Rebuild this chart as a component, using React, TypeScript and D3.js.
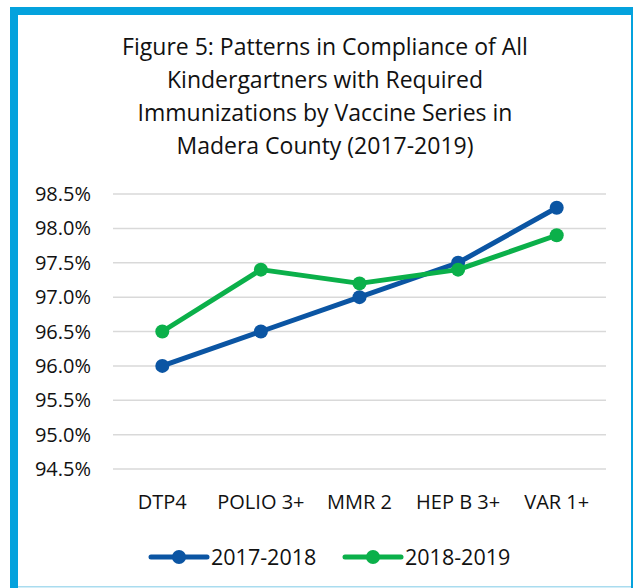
import React from 'react'
import * as d3 from 'd3'

const categories = ['DTP4', 'POLIO 3+', 'MMR 2', 'HEP B 3+', 'VAR 1+']
const series2017 = [96.0, 96.5, 97.0, 97.5, 98.3]
const series2018 = [96.5, 97.4, 97.2, 97.4, 97.9]
const seriesNames = ['2017-2018', '2018-2019']
const yTicks = [94.5, 95.0, 95.5, 96.0, 96.5, 97.0, 97.5, 98.0, 98.5]
const titleLines = [
  'Figure 5: Patterns in Compliance of All',
  'Kindergartners with Required',
  'Immunizations by Vaccine Series in',
  'Madera County (2017-2019)',
]

const W = 633
const H = 588
const colors = ['#0b55a3', '#0bb04a']
const border = '#04a2dd'
const font = '"Open Sans", sans-serif'

function App() {
  const x = d3.scaleBand<string>().domain(categories).range([113, 606])
  const y = d3.scaleLinear().domain([94.5, 98.5]).range([469, 194])

  const line = d3.line<number>()
    .x((_, i) => x(categories[i])! + x.bandwidth() / 2)
    .y(d => y(d))

  const allSeries = [series2017, series2018]

  return (
    <svg width={W} height={H} style={{ position: 'absolute', left: 0, top: 0, background: '#fff' }}>
      {/* frame */}
      <rect x={10} y={7} width={623} height={8} fill={border} />
      <rect x={10} y={7} width={8} height={581} fill={border} />
      <rect x={631} y={7} width={2} height={581} fill={border} />
      <rect x={18} y={586} width={613} height={1.5} fill="#a9dcef" />

      {titleLines.map((t, i) => (
        <text key={i} x={325} y={47 + i * 33} dy="0.35em" textAnchor="middle" fontFamily={font} fontSize={23} fill="#111">
          {t}
        </text>
      ))}

      {yTicks.map(t => (
        <g key={t}>
          <line x1={113} x2={606} y1={y(t)} y2={y(t)} stroke="#d9d9d9" strokeWidth={1.5} />
          <text x={91} y={y(t)} dy="0.35em" textAnchor="end" fontFamily={font} fontSize={20} fill="#111">
            {d3.format('.1f')(t)}%
          </text>
        </g>
      ))}

      {categories.map(c => (
        <text key={c} x={x(c)! + x.bandwidth() / 2} y={502} dy="0.35em" textAnchor="middle"
          fontFamily={font} fontSize={20} fill="#111">
          {c}
        </text>
      ))}

      {allSeries.map((s, si) => (
        <g key={si}>
          <path d={line(s)!} fill="none" stroke={colors[si]} strokeWidth={5} strokeLinejoin="round" />
          {s.map((v, i) => (
            <circle key={i} cx={x(categories[i])! + x.bandwidth() / 2} cy={y(v)} r={7} fill={colors[si]} />
          ))}
        </g>
      ))}

      {seriesNames.map((n, i) => {
        const lx = 151 + i * 194
        return (
          <g key={n}>
            <line x1={lx} x2={lx + 56} y1={557} y2={557} stroke={colors[i]} strokeWidth={5} strokeLinecap="round" />
            <circle cx={lx + 28} cy={557} r={7} fill={colors[i]} />
            <text x={lx + 60} y={557} dy="0.35em" fontFamily={font} fontSize={21.5} fill="#111">{n}</text>
          </g>
        )
      })}
    </svg>
  )
}

export default App
